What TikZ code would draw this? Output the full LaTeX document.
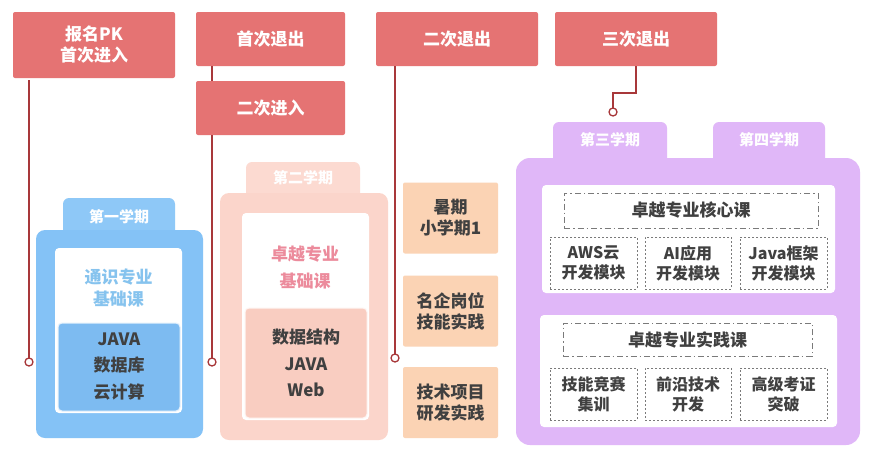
\documentclass[tikz,border=0pt]{standalone}
\usepackage{fontspec}
\setmainfont{Noto Sans CJK SC}
\usetikzlibrary{positioning}
\definecolor{redbox}{HTML}{E57373}
\definecolor{redline}{HTML}{A8383A}
\definecolor{bluebody}{HTML}{84C2F6}
\definecolor{bluetab}{HTML}{8EC8F7}
\definecolor{blueinner}{HTML}{7DBBF1}
\definecolor{bluetext}{HTML}{86C3EE}
\definecolor{pinkbody}{HTML}{FBD5CB}
\definecolor{pinktab}{HTML}{FCDAD1}
\definecolor{pinkinner}{HTML}{F9CDC1}
\definecolor{pinktext}{HTML}{EC8B9C}
\definecolor{peach}{HTML}{FBD3B4}
\definecolor{purp}{HTML}{E0B7F8}
\definecolor{darktext}{HTML}{404040}
\definecolor{dashgray}{HTML}{7A7A7A}
\tikzset{
  redbox/.style={fill=redbox, rounded corners=2pt, text=white, font=\fontsize{17}{21}\selectfont\bfseries, align=center, inner sep=0pt},
  tabbox/.style={rounded corners=6pt, text=white, font=\fontsize{15}{18}\selectfont\bfseries, inner sep=0pt},
  bodybox/.style={rounded corners=9pt, inner sep=0pt},
  whitebox/.style={fill=white, rounded corners=4pt, inner sep=0pt},
  listtext/.style={text=darktext, font=\fontsize{17}{26.5}\selectfont\bfseries, align=center, inner sep=0pt},
  peachbox/.style={fill=peach, rounded corners=2pt, text=darktext, font=\fontsize{17}{21}\selectfont\bfseries, align=center, inner sep=0pt, minimum width=95pt, minimum height=71pt},
  hdrbox/.style={draw=dashgray, line width=1pt, dash pattern=on 6pt off 3pt on 1.5pt off 3pt, text=darktext, font=\fontsize{17}{21}\selectfont\bfseries, inner sep=0pt},
  modbox/.style={draw=dashgray, line width=1pt, dash pattern=on 2pt off 2pt, text=darktext, font=\fontsize{16}{20}\selectfont\bfseries, align=center, inner sep=0pt, minimum height=52pt},
  link/.style={draw=redline, line width=1.5pt},
  dot/.style={circle, draw=redline, line width=1.3pt, fill=white, inner sep=0pt, minimum size=8pt}
}
\begin{document}
\begin{tikzpicture}[x=1pt,y=-1pt]
\useasboundingbox[fill=white] (0,0) rectangle (871,453);
% red boxes
\node[redbox, minimum width=162pt, minimum height=66pt] (pk) at (94,45) {报名PK\\首次进入};
\node[redbox, minimum width=149pt, minimum height=54pt] (q1) at (270.5,39) {首次退出};
\node[redbox, minimum width=149pt, minimum height=54pt] (e2) at (270.5,108) {二次进入};
\node[redbox, minimum width=162pt, minimum height=54pt] (q2) at (457,39) {二次退出};
\node[redbox, minimum width=162pt, minimum height=54pt] (q3) at (636,39) {三次退出};
% blue group
\node[tabbox, fill=bluetab, minimum width=112pt, minimum height=42pt, text depth=0pt] (tab1) at (119,219) {};
\node[bodybox, fill=bluebody, minimum width=167pt, minimum height=208pt] (body1) at (119.5,334) {};
\node[tabbox, text=white, inner sep=0pt] (tab1t) at (119,217) {第一学期};
\node[whitebox, minimum width=127pt, minimum height=165pt] (w1) at (118.5,330.5) {};
\node[fill=blueinner, draw=white!80!blueinner, line width=1pt, rounded corners=4pt, minimum width=122pt, minimum height=88pt, inner sep=0pt] (in1) at (119,367) {};
\node[text=bluetext, font=\fontsize{17}{22}\selectfont\bfseries, align=center, inner sep=0pt] (t1) at (118.5,288) {通识专业\\基础课};
\node[listtext] (l1) at (119,366.5) {JAVA\\数据库\\云计算};
% pink group
\node[tabbox, fill=pinktab, minimum width=114pt, minimum height=40pt] (tab2) at (303,182) {};
\node[bodybox, fill=pinkbody, minimum width=168pt, minimum height=247pt] (body2) at (304,316.5) {};
\node[tabbox, text=white] (tab2t) at (303,178) {第二学期};
\node[whitebox, minimum width=127pt, minimum height=207pt] (w2) at (305.5,316.5) {};
\node[fill=pinkinner, draw=white!80!pinkinner, line width=1pt, rounded corners=4pt, minimum width=122pt, minimum height=110pt, inner sep=0pt] (in2) at (306,363) {};
\node[text=pinktext, font=\fontsize{17}{27}\selectfont\bfseries, align=center, inner sep=0pt] (t2) at (305,267) {卓越专业\\基础课};
\node[listtext] (l2) at (306,363) {数据结构\\JAVA\\Web};
% peach boxes
\node[peachbox] (s1) at (450.5,218) {暑期\\小学期1};
\node[peachbox] (s2) at (450.5,311) {名企岗位\\技能实践};
\node[peachbox] (s3) at (450.5,402.5) {技术项目\\研发实践};
% purple group
\node[tabbox, fill=purp, minimum width=114pt, minimum height=43pt] (tab3) at (610,143.5) {};
\node[tabbox, fill=purp, minimum width=112pt, minimum height=43pt] (tab4) at (769,143.5) {};
\node[bodybox, fill=purp, rounded corners=14pt, minimum width=344pt, minimum height=287pt] (body3) at (688,301.5) {};
\node[tabbox] (tab3t) at (610,140) {第三学期};
\node[tabbox] (tab4t) at (769,140) {第四学期};
\node[whitebox, minimum width=293pt, minimum height=108pt] (pa) at (688.5,239) {};
\node[whitebox, minimum width=297pt, minimum height=112pt] (pb) at (688.5,371) {};
\node[hdrbox, minimum width=254pt, minimum height=35pt] (h1) at (691,210.5) {卓越专业核心课};
\node[hdrbox, minimum width=249pt, minimum height=33pt] (h2) at (687.5,339.5) {卓越专业实践课};
\node[modbox, minimum width=87pt] (m1) at (593.5,263) {AWS云\\开发模块};
\node[modbox, minimum width=86pt] (m2) at (688,263) {AI应用\\开发模块};
\node[modbox, minimum width=87pt] (m3) at (783.5,263) {Java框架\\开发模块};
\node[modbox, minimum width=87pt] (m4) at (593.5,394) {技能竞赛\\集训};
\node[modbox, minimum width=86pt] (m5) at (688,394) {前沿技术\\开发};
\node[modbox, minimum width=87pt] (m6) at (783.5,394) {高级考证\\突破};
% connectors
\coordinate (c1) at (29,362);
\coordinate (c2) at (212,362);
\coordinate (c3) at (395,358);
\coordinate (c4) at (613,112);
\draw[link] ([yshift=-2pt]c1 |- pk.south) -- (c1);
\draw[link] (c2 |- q1.south) -- (c2 |- e2.north);
\draw[link] (c2 |- e2.south) -- (c2);
\draw[link] (c3 |- q2.south) -- (c3);
\draw[link] (q3.south) -- ++(0,27) -| (c4);
\node[dot] (d1) at (c1) {};
\node[dot] (d2) at (c2) {};
\node[dot] (d3) at (c3) {};
\node[dot] (d4) at (c4) {};
\end{tikzpicture}
\end{document}
